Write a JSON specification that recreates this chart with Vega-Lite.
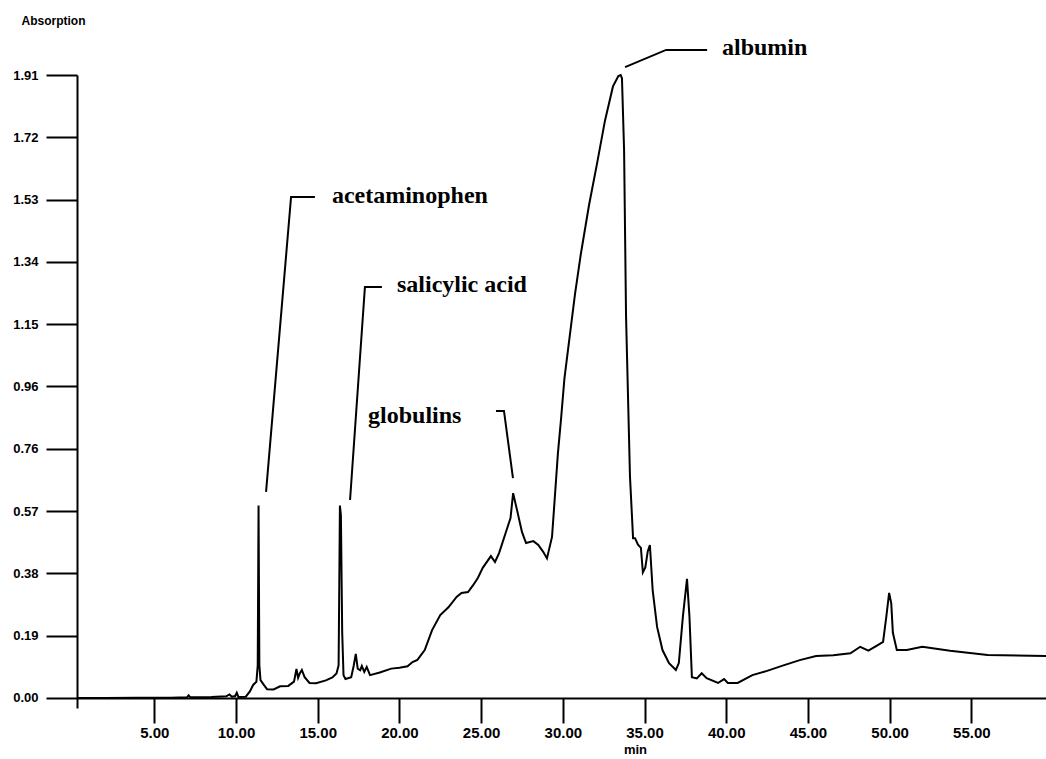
{
  "$schema": "https://vega.github.io/schema/vega-lite/v6.json",
  "width": 969,
  "height": 633,
  "autosize": {"type": "none"},
  "padding": {"left": 77, "top": 75, "right": 0, "bottom": 51},
  "background": "white",
  "config": {
    "view": {"stroke": null},
    "axis": {"grid": false, "domainColor": "black", "tickColor": "black", "labelColor": "black", "titleColor": "black", "domainWidth": 2, "tickWidth": 2, "labelFont": "Liberation Sans", "titleFont": "Liberation Sans"}
  },
  "datasets": {
    "trace": [
      {"time": 0.27, "abs": 0.0}, {"time": 2, "abs": 0.0}, {"time": 4, "abs": 0.001}, {"time": 6, "abs": 0.001},
      {"time": 7.0, "abs": 0.002}, {"time": 7.1, "abs": 0.008}, {"time": 7.2, "abs": 0.002}, {"time": 8.5, "abs": 0.003},
      {"time": 9.4, "abs": 0.005}, {"time": 9.6, "abs": 0.011}, {"time": 9.75, "abs": 0.004}, {"time": 9.95, "abs": 0.006},
      {"time": 10.05, "abs": 0.016}, {"time": 10.15, "abs": 0.003}, {"time": 10.6, "abs": 0.004}, {"time": 10.85, "abs": 0.02},
      {"time": 11.05, "abs": 0.04}, {"time": 11.25, "abs": 0.05}, {"time": 11.33, "abs": 0.1}, {"time": 11.38, "abs": 0.59},
      {"time": 11.43, "abs": 0.1}, {"time": 11.5, "abs": 0.055}, {"time": 11.65, "abs": 0.044}, {"time": 11.9, "abs": 0.027},
      {"time": 12.3, "abs": 0.026}, {"time": 12.7, "abs": 0.036}, {"time": 13.2, "abs": 0.037}, {"time": 13.55, "abs": 0.05},
      {"time": 13.7, "abs": 0.089}, {"time": 13.8, "abs": 0.062}, {"time": 13.9, "abs": 0.075}, {"time": 14.03, "abs": 0.086},
      {"time": 14.2, "abs": 0.064}, {"time": 14.5, "abs": 0.046}, {"time": 14.9, "abs": 0.045}, {"time": 15.5, "abs": 0.054},
      {"time": 15.9, "abs": 0.063}, {"time": 16.15, "abs": 0.075}, {"time": 16.28, "abs": 0.1}, {"time": 16.36, "abs": 0.59},
      {"time": 16.42, "abs": 0.56}, {"time": 16.5, "abs": 0.2}, {"time": 16.58, "abs": 0.07}, {"time": 16.7, "abs": 0.058},
      {"time": 17.05, "abs": 0.064}, {"time": 17.2, "abs": 0.098}, {"time": 17.33, "abs": 0.135}, {"time": 17.45, "abs": 0.09},
      {"time": 17.6, "abs": 0.085}, {"time": 17.7, "abs": 0.098}, {"time": 17.85, "abs": 0.08}, {"time": 18.0, "abs": 0.095},
      {"time": 18.2, "abs": 0.07}, {"time": 18.8, "abs": 0.078}, {"time": 19.5, "abs": 0.09}, {"time": 20.0, "abs": 0.093},
      {"time": 20.5, "abs": 0.097}, {"time": 20.8, "abs": 0.11}, {"time": 21.1, "abs": 0.117}, {"time": 21.55, "abs": 0.147},
      {"time": 22.0, "abs": 0.208}, {"time": 22.5, "abs": 0.254}, {"time": 23.0, "abs": 0.278}, {"time": 23.5, "abs": 0.31},
      {"time": 23.8, "abs": 0.322}, {"time": 24.2, "abs": 0.325}, {"time": 24.5, "abs": 0.345}, {"time": 24.8, "abs": 0.368},
      {"time": 25.1, "abs": 0.399}, {"time": 25.6, "abs": 0.435},
      {"time": 25.85, "abs": 0.417}, {"time": 26.1, "abs": 0.444}, {"time": 26.5, "abs": 0.506}, {"time": 26.8, "abs": 0.552},
      {"time": 26.96, "abs": 0.628}, {"time": 27.2, "abs": 0.576}, {"time": 27.5, "abs": 0.509}, {"time": 27.75, "abs": 0.475},
      {"time": 28.2, "abs": 0.481}, {"time": 28.5, "abs": 0.469}, {"time": 28.8, "abs": 0.448}, {"time": 29.03, "abs": 0.428},
      {"time": 29.34, "abs": 0.494}, {"time": 29.5, "abs": 0.607}, {"time": 29.7, "abs": 0.75}, {"time": 29.9, "abs": 0.86},
      {"time": 30.1, "abs": 0.98}, {"time": 30.4, "abs": 1.1}, {"time": 30.75, "abs": 1.24}, {"time": 31.1, "abs": 1.36},
      {"time": 31.6, "abs": 1.51}, {"time": 32.1, "abs": 1.64}, {"time": 32.58, "abs": 1.77}, {"time": 33.07, "abs": 1.875},
      {"time": 33.4, "abs": 1.907},
      {"time": 33.54, "abs": 1.91}, {"time": 33.62, "abs": 1.9}, {"time": 33.75, "abs": 1.68}, {"time": 33.87, "abs": 1.17},
      {"time": 34.11, "abs": 0.68}, {"time": 34.3, "abs": 0.49}, {"time": 34.42, "abs": 0.49}, {"time": 34.6, "abs": 0.47},
      {"time": 34.78, "abs": 0.46}, {"time": 34.9, "abs": 0.385}, {"time": 35.05, "abs": 0.4}, {"time": 35.2, "abs": 0.45},
      {"time": 35.33, "abs": 0.469}, {"time": 35.5, "abs": 0.33}, {"time": 35.77, "abs": 0.218}, {"time": 36.1, "abs": 0.147},
      {"time": 36.5, "abs": 0.107}, {"time": 36.92, "abs": 0.086}, {"time": 37.1, "abs": 0.107}, {"time": 37.35, "abs": 0.25},
      {"time": 37.6, "abs": 0.365}, {"time": 37.75, "abs": 0.25}, {"time": 37.9, "abs": 0.064}, {"time": 38.2, "abs": 0.06},
      {"time": 38.5, "abs": 0.076}, {"time": 38.8, "abs": 0.061}, {"time": 39.5, "abs": 0.046}, {"time": 39.87, "abs": 0.058},
      {"time": 40.1, "abs": 0.046}, {"time": 40.7, "abs": 0.046}, {"time": 41.6, "abs": 0.07}, {"time": 42.5, "abs": 0.083},
      {"time": 43.5, "abs": 0.1}, {"time": 44.5, "abs": 0.116}, {"time": 45.5, "abs": 0.129}, {"time": 46.55, "abs": 0.131},
      {"time": 47.6, "abs": 0.137}, {"time": 48.2, "abs": 0.157}, {"time": 48.7, "abs": 0.145}, {"time": 49.2, "abs": 0.16},
      {"time": 49.6, "abs": 0.172}, {"time": 49.8, "abs": 0.25}, {"time": 49.97, "abs": 0.322}, {"time": 50.1, "abs": 0.29},
      {"time": 50.2, "abs": 0.2}, {"time": 50.44, "abs": 0.147}, {"time": 51.05, "abs": 0.147}, {"time": 52.0, "abs": 0.157},
      {"time": 53.7, "abs": 0.145}, {"time": 56.0, "abs": 0.132}, {"time": 59.57, "abs": 0.129}
    ],
    "leaders": [
      {"id": "acetaminophen", "k": 1, "time": 11.84, "abs": 0.632},
      {"id": "acetaminophen", "k": 2, "time": 13.37, "abs": 1.536},
      {"id": "acetaminophen", "k": 3, "time": 14.83, "abs": 1.536},
      {"id": "salicylic", "k": 1, "time": 16.98, "abs": 0.607},
      {"id": "salicylic", "k": 2, "time": 17.89, "abs": 1.26},
      {"id": "salicylic", "k": 3, "time": 18.93, "abs": 1.26},
      {"id": "globulins", "k": 1, "time": 25.91, "abs": 0.88},
      {"id": "globulins", "k": 2, "time": 26.4, "abs": 0.88},
      {"id": "globulins", "k": 3, "time": 26.95, "abs": 0.674},
      {"id": "albumin", "k": 1, "time": 33.81, "abs": 1.934},
      {"id": "albumin", "k": 2, "time": 36.32, "abs": 1.987},
      {"id": "albumin", "k": 3, "time": 38.83, "abs": 1.987}
    ],
    "labels": [
      {"label": "acetaminophen", "time": 15.87, "abs": 1.517},
      {"label": "salicylic acid", "time": 19.85, "abs": 1.245},
      {"label": "globulins", "time": 18.08, "abs": 0.843},
      {"label": "albumin", "time": 39.74, "abs": 1.971}
    ]
  },
  "encoding": {
    "x": {
      "field": "time", "type": "quantitative",
      "scale": {"domain": [0.27, 59.57], "nice": false, "zero": false},
      "axis": {
        "title": "min", "values": [5, 10, 15, 20, 25, 30, 35, 40, 45, 50, 55], "format": ".2f",
        "offset": -10, "tickSize": 25, "labelPadding": 2, "labelFontSize": 15, "labelFontWeight": "bold",
        "labelDx": 4, "labelFlush": false, "labelOverlap": false,
        "titleX": 558, "titleY": 55, "titleAlign": "center", "titleBaseline": "alphabetic",
        "titleFontSize": 13, "titleFontWeight": "bold"
      }
    },
    "y": {
      "field": "abs", "type": "quantitative",
      "scale": {"domain": [-0.0307, 1.91], "nice": false, "zero": false},
      "axis": {
        "title": "Absorption", "values": [0, 0.191, 0.382, 0.573, 0.764, 0.9551, 1.146, 1.337, 1.528, 1.719, 1.91], "format": ".2f",
        "tickSize": 31, "labelPadding": 8, "labelFontSize": 13, "labelFontWeight": "bold",
        "labelFlush": false, "labelOverlap": false,
        "titleAngle": 0, "titleX": -56, "titleY": -51, "titleAlign": "left", "titleBaseline": "alphabetic",
        "titleFontSize": 12, "titleFontWeight": "bold"
      }
    }
  },
  "layer": [
    {
      "data": {"name": "trace"},
      "mark": {"type": "line", "color": "black", "strokeWidth": 2}
    },
    {
      "data": {"name": "leaders"},
      "mark": {"type": "line", "color": "black", "strokeWidth": 2},
      "encoding": {
        "detail": {"field": "id", "type": "nominal"},
        "order": {"field": "k", "type": "quantitative"}
      }
    },
    {
      "data": {"name": "labels"},
      "mark": {"type": "text", "align": "left", "baseline": "alphabetic", "font": "Liberation Serif", "fontSize": 24, "fontWeight": "bold", "color": "black"},
      "encoding": {
        "text": {"field": "label", "type": "nominal"}
      }
    }
  ]
}
